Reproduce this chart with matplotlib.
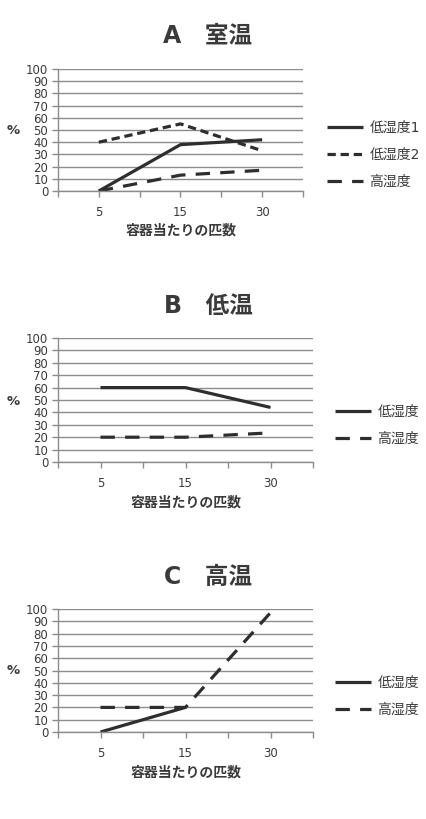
""" plot.py
Three small line charts (室温 / 低温 / 高温) stacked vertically. """

import numpy as np
import matplotlib
matplotlib.use('Agg')
import matplotlib.pyplot as plt

plt.rcParams['font.family'] = ['Noto Sans CJK JP', 'DejaVu Sans']
JP = 'Noto Sans CJK JP'
LATIN_FIRST = ['DejaVu Sans', 'Noto Sans CJK JP']

# Data
categories = ['5', '15', '30']
yticks = list(range(0, 101, 10))

a_low1 = [0, 38, 42]
a_low2 = [40, 55, 33]
a_high = [0, 13, 17]

b_low = [60, 60, 44]
b_high = [20, 20, 23.5]

c_low = [0, 20, np.nan]
c_high = [20, 20, 97]

LINE = '#2e2e2e'
GRID = '#8c8c8c'
TXT = '#3a3a3a'
W, H = 427, 819

STYLES = {
    'solid': dict(ls='-'),
    'short': dict(ls=(0, (2.6, 1.5))),
    'long': dict(ls=(0, (4.5, 3.2))),
}


def fx(px):
    return px / W


def fy(py):
    return 1 - py / H


def make_panel(fig, rect, title, title_y, xlabel_y, pct_y, series, leg_x, leg_y):
    ax = fig.add_axes(rect)
    x = np.arange(len(categories))
    for vals, label, style in series:
        ax.plot(x, vals, color=LINE, lw=2.3, label=label,
                solid_capstyle='butt', dash_capstyle='butt', **STYLES[style])
    ax.set_xlim(-0.5, len(categories) - 0.5)
    ax.set_ylim(0, 100)
    ax.set_yticks(yticks)
    ax.set_yticklabels([str(v) for v in yticks], fontfamily='DejaVu Sans')
    # ticks at category centres and boundaries, labels only at centres
    ax.set_xticks(np.arange(-0.5, len(categories), 0.5))
    labels = ['']
    for c in categories:
        labels += [c, '']
    ax.set_xticklabels(labels, fontfamily='DejaVu Sans')
    ax.grid(axis='y', color=GRID, lw=1.0)
    ax.set_axisbelow(True)
    for s in ('top', 'right'):
        ax.spines[s].set_visible(False)
    for s in ('left', 'bottom'):
        ax.spines[s].set_color(GRID)
        ax.spines[s].set_linewidth(1.0)
    ax.tick_params(axis='y', length=4, width=1, color=GRID, pad=3,
                   labelsize=8.5, labelcolor=TXT)
    ax.tick_params(axis='x', length=4, width=1, color=GRID, pad=7,
                   labelsize=8.5, labelcolor=TXT)

    cx = rect[0] + rect[2] / 2
    fig.text(fx(208), fy(title_y), title, ha='center', va='center',
             fontsize=17, fontweight='bold', color=TXT, fontfamily=LATIN_FIRST)
    fig.text(cx, fy(xlabel_y), '容器当たりの匹数', ha='center', va='center',
             fontsize=10, fontweight='bold', color=TXT, fontfamily=JP)
    fig.text(fx(13), fy(pct_y), '%', ha='center', va='center',
             fontsize=9.5, fontweight='bold', color=TXT, fontfamily='DejaVu Sans')
    ax.legend(loc='center left', bbox_to_anchor=(fx(leg_x), fy(leg_y)),
              bbox_transform=fig.transFigure, frameon=False,
              prop={'family': LATIN_FIRST, 'size': 10},
              handlelength=2.6, handletextpad=0.45, labelspacing=0.95,
              borderpad=0, borderaxespad=0, labelcolor=TXT)
    return ax


fig = plt.figure(figsize=(W / 100, H / 100), dpi=100)

make_panel(fig, [fx(58), fy(191), fx(303) - fx(58), fy(69) - fy(191)],
           'A\u3000室温', 35, 231, 131,
           [(a_low1, '低湿度1', 'solid'), (a_low2, '低湿度2', 'short'),
            (a_high, '高湿度', 'long')], 327, 155)

make_panel(fig, [fx(58), fy(462), fx(313) - fx(58), fy(338) - fy(462)],
           'B\u3000低温', 306, 502, 401,
           [(b_low, '低湿度', 'solid'), (b_high, '高湿度', 'long')], 335, 425)

make_panel(fig, [fx(58), fy(732), fx(313) - fx(58), fy(609) - fy(732)],
           'C\u3000高温', 577, 773, 671,
           [(c_low, '低湿度', 'solid'), (c_high, '高湿度', 'long')], 335, 696)

plt.savefig('out.png', dpi=100)
